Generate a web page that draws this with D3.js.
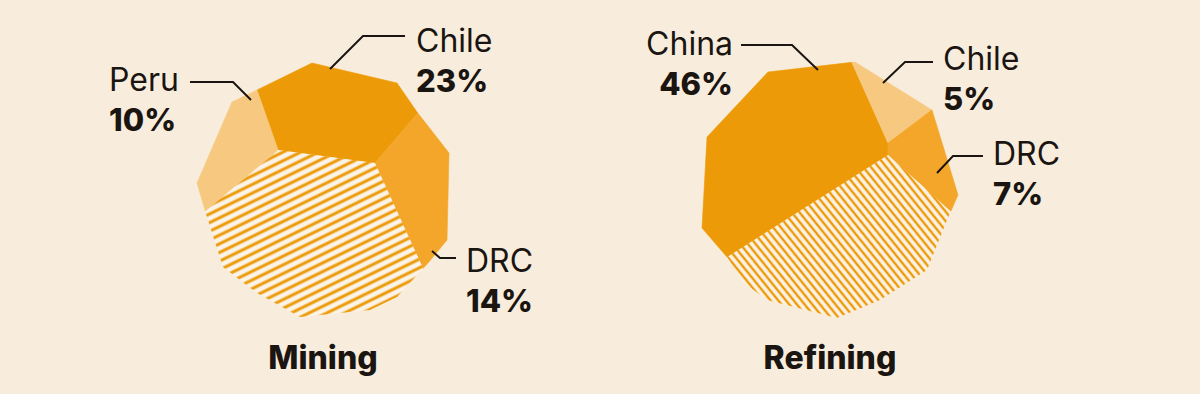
<!DOCTYPE html>
<html>
<head>
<meta charset="utf-8">
<script src="https://cdn.jsdelivr.net/npm/d3@7"></script>
<style>
  html, body { margin: 0; padding: 0; background: #f8eddd; }
  svg { display: block; }
  text { font-family: Inter, "Noto Sans", sans-serif; fill: #1b1511; }
</style>
</head>
<body>
<div class="chart-container"></div>
<script>
// --- Data ---
const panelTitles = ["Mining", "Refining"];

const miningCountries = ["Chile", "DRC", "Other", "Peru"];
const miningShares = [23, 14, 53, 10];

const refiningCountries = ["China", "Chile", "DRC", "Other"];
const refiningShares = [46, 5, 7, 42];

// --- Layout / style ---
const w = 1200;
const h = 394;

const darkOrange = "#ec9a08";
const midOrange = "#f4a62a";
const lightOrange = "#f7c980";
const hatchBg = "#fbf3e8";

// rock-like outline of each "pie", offsets from the panel centre (clockwise)
const panels = [
    {
        title: panelTitles[0], names: miningCountries, values: miningShares,
        cx: 323, cy: 189, startDeg: -19.3,
        outline: [[-11, -126], [74, -106], [94, -77], [126, -36], [124, 51], [105, 74],
                  [74, 108], [47, 121], [-23, 128], [-66, 104], [-100, 78], [-116, 28],
                  [-126, -6], [-91, -87], [-66, -99]],
        hub: [[-45, -39], [52, -26]],
        colors: { Chile: darkOrange, DRC: midOrange, Peru: lightOrange },
        hatch: { id: "hatch-mining", angle: -26, gap: 7.8, width: 3 },
        labels: {
            Chile: { x: 416, y: 52, anchor: "start", leader: [[330, 69], [363, 36], [405, 36]] },
            Peru: { x: 109, y: 91, anchor: "start", leader: [[251, 100], [233, 82], [190, 82]] },
            DRC: { x: 466, y: 272, anchor: "start", leader: [[432, 251], [440, 258], [456, 258]] }
        }
    },
    {
        title: panelTitles[1], names: refiningCountries, values: refiningShares,
        cx: 830, cy: 188, startDeg: -122.4,
        outline: [[25, -126], [102, -78], [128, 7], [117, 32], [97, 82], [50, 112], [7, 130],
                  [-63, 112], [-87, 94], [-103, 69], [-128, 40], [-123, -51], [-62, -116]],
        hub: [[58, -45], [58, -33]],
        colors: { China: darkOrange, DRC: midOrange, Chile: lightOrange },
        hatch: { id: "hatch-refining", angle: 51, gap: 6, width: 2.4 },
        labels: {
            China: { x: 733, y: 55, anchor: "end", leader: [[818, 70], [792, 45], [741, 45]] },
            Chile: { x: 943, y: 70, anchor: "start", leader: [[883, 83], [905, 62], [933, 62]] },
            DRC: { x: 993, y: 165, anchor: "start", leader: [[937, 173], [953, 156], [983, 156]] }
        }
    }
];

// --- Geometry helpers ---
function dir(theta) { return [Math.sin(theta), -Math.cos(theta)]; }

// pick the hub point lying furthest in the ray's direction
function originFor(hub, theta) {
    const u = dir(theta);
    const mx = d3.mean(hub, p => p[0]), my = d3.mean(hub, p => p[1]);
    return d3.greatest(hub, p => (p[0] - mx) * u[0] + (p[1] - my) * u[1]);
}

function rayHit(o, theta, poly) {
    const u = dir(theta);
    let best = null;
    for (let i = 0; i < poly.length; i++) {
        const a = poly[i], b = poly[(i + 1) % poly.length];
        const ex = b[0] - a[0], ey = b[1] - a[1];
        const det = ex * u[1] - u[0] * ey;
        if (Math.abs(det) < 1e-9) continue;
        const wx = a[0] - o[0], wy = a[1] - o[1];
        const t = (ex * wy - wx * ey) / det;
        const s = (u[0] * wy - u[1] * wx) / det;
        if (t > 0 && s >= 0 && s <= 1 && (!best || t < best.t)) {
            best = { t: t, i: i, s: s, p: [o[0] + u[0] * t, o[1] + u[1] * t] };
        }
    }
    return best;
}

function slicePolygon(poly, hub, t0, t1) {
    const n = poly.length;
    const o0 = originFor(hub, t0), o1 = originFor(hub, t1);
    const h0 = rayHit(o0, t0, poly), h1 = rayHit(o1, t1, poly);
    const pts = [o0, h0.p];
    let j = h0.i;
    if (!(h1.i === h0.i && h1.s >= h0.s && t1 - t0 < Math.PI)) {
        do { j = (j + 1) % n; pts.push(poly[j]); } while (j !== h1.i);
    }
    pts.push(h1.p);
    if (o1 !== o0) pts.push(o1);
    return pts;
}

// cut the outline into pieces whose areas follow the pie fractions
function layoutSlices(panel) {
    const poly = panel.outline;
    const total = Math.abs(d3.polygonArea(poly));
    const arcs = d3.pie().sort(null).value(d => d)(panel.values);
    const start = panel.startDeg * Math.PI / 180;
    const cuts = [start];
    arcs.forEach(function (a, k) {
        if (k === arcs.length - 1) { cuts.push(start + 2 * Math.PI); return; }
        const target = total * (a.endAngle - a.startAngle) / (2 * Math.PI);
        let lo = cuts[k] + 1e-4, hi = start + 2 * Math.PI - 1e-4;
        for (let it = 0; it < 60; it++) {
            const mid = (lo + hi) / 2;
            const area = Math.abs(d3.polygonArea(slicePolygon(poly, panel.hub, cuts[k], mid)));
            if (area < target) lo = mid; else hi = mid;
        }
        cuts.push((lo + hi) / 2);
    });
    return arcs.map(function (a, k) {
        return {
            name: panel.names[k],
            value: a.value,
            points: slicePolygon(poly, panel.hub, cuts[k], cuts[k + 1])
        };
    });
}

// --- Drawing ---
const svg = d3.select(".chart-container")
    .append("svg")
    .attr("width", w)
    .attr("height", h);

svg.append("rect")
    .attr("width", w)
    .attr("height", h)
    .attr("fill", "#f8eddd");

const defs = svg.append("defs");
const line = d3.line().curve(d3.curveLinearClosed);

panels.forEach(function (panel) {
    // diagonal hatching for the rest of the world
    const pat = defs.append("pattern")
        .attr("id", panel.hatch.id)
        .attr("patternUnits", "userSpaceOnUse")
        .attr("width", 20)
        .attr("height", panel.hatch.gap)
        .attr("patternTransform", "rotate(" + panel.hatch.angle + ")");
    pat.append("rect")
        .attr("width", 20)
        .attr("height", panel.hatch.gap)
        .attr("fill", hatchBg);
    pat.append("line")
        .attr("x1", -2).attr("x2", 22)
        .attr("y1", panel.hatch.gap / 2).attr("y2", panel.hatch.gap / 2)
        .attr("stroke", darkOrange)
        .attr("stroke-width", panel.hatch.width);

    const g = svg.append("g")
        .attr("transform", "translate(" + panel.cx + "," + panel.cy + ")");

    const slices = layoutSlices(panel);

    g.selectAll("path")
        .data(slices)
        .enter()
        .append("path")
        .attr("d", d => line(d.points))
        .attr("fill", function (d) {
            return panel.colors[d.name] || "url(#" + panel.hatch.id + ")";
        })
        .attr("stroke", d => panel.colors[d.name] || "none")
        .attr("stroke-width", 0.6)
        .attr("stroke-linejoin", "round");

    // labels with leader lines
    const labelled = slices.filter(d => panel.labels[d.name]);

    svg.selectAll(null)
        .data(labelled)
        .enter()
        .append("polyline")
        .attr("points", d => panel.labels[d.name].leader.map(p => p.join(",")).join(" "))
        .attr("fill", "none")
        .attr("stroke", "#1b1511")
        .attr("stroke-width", 2);

    const labels = svg.selectAll(null)
        .data(labelled)
        .enter()
        .append("text")
        .attr("text-anchor", d => panel.labels[d.name].anchor);

    labels.append("tspan")
        .attr("x", d => panel.labels[d.name].x)
        .attr("y", d => panel.labels[d.name].y)
        .attr("font-size", "32px")
        .attr("font-weight", 400)
        .text(d => d.name);

    labels.append("tspan")
        .attr("x", d => panel.labels[d.name].x)
        .attr("y", d => panel.labels[d.name].y + 40)
        .attr("font-size", "31px")
        .attr("font-weight", 800)
        .text(d => d.value + "%");

    svg.append("text")
        .attr("x", panel.cx)
        .attr("y", 369)
        .attr("text-anchor", "middle")
        .attr("font-size", "32px")
        .attr("font-weight", 800)
        .text(panel.title);
});
</script>
</body>
</html>
